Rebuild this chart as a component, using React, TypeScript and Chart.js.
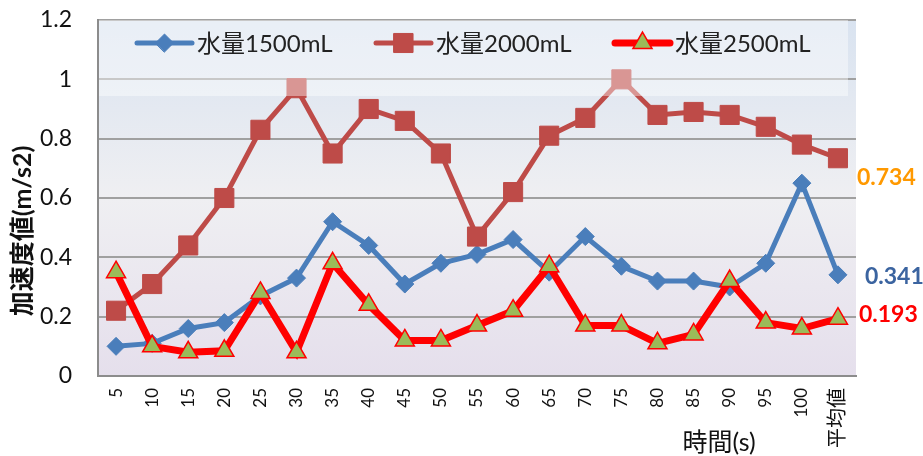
import { useEffect, useRef } from 'react';
import { Chart, registerables } from 'chart.js';
import { drawPoint } from 'chart.js/helpers';

Chart.register(...registerables);

const categories = ['5', '10', '15', '20', '25', '30', '35', '40', '45', '50', '55', '60', '65', '70', '75', '80', '85', '90', '95', '100', '平均値'];
const water1500 = [0.10, 0.11, 0.16, 0.18, 0.27, 0.33, 0.52, 0.44, 0.31, 0.38, 0.41, 0.46, 0.35, 0.47, 0.37, 0.32, 0.32, 0.30, 0.38, 0.65, 0.341];
const water2000 = [0.22, 0.31, 0.44, 0.60, 0.83, 0.97, 0.75, 0.90, 0.86, 0.75, 0.47, 0.62, 0.81, 0.87, 1.00, 0.88, 0.89, 0.88, 0.84, 0.78, 0.734];
const water2500 = [0.35, 0.10, 0.08, 0.085, 0.28, 0.08, 0.38, 0.24, 0.12, 0.12, 0.17, 0.22, 0.37, 0.17, 0.17, 0.11, 0.14, 0.32, 0.18, 0.16, 0.193];
const seriesNames = ['水量1500mL', '水量2000mL', '水量2500mL'];
const yTickLabels = ['0', '0.2', '0.4', '0.6', '0.8', '1', '1.2'];
const avgLabels = ['0.341', '0.734', '0.193'];
const yTitle = '加速度値(m/s2)';
const xTitle = '時間(s)';

const FONT = "Lato, 'Noto Sans CJK JP', sans-serif";

export default function App() {
  const ref = useRef<HTMLCanvasElement | null>(null);

  useEffect(() => {
    if (!ref.current) return;
    document.body.style.margin = '0';

    const styles = [
      { color: '#4A7EBB', width: 5, pointStyle: 'rectRot', radius: 9, fill: '#4A7EBB', border: '#4A7EBB', bw: 1 },
      { color: '#BE4B48', width: 5, pointStyle: 'rect', radius: 13.5, fill: '#BE4B48', border: '#BE4B48', bw: 1 },
      { color: '#FF0000', width: 7, pointStyle: 'triangle', radius: 11, fill: '#9BBB59', border: '#FF0000', bw: 1.5 },
    ];
    const labelStyles = [
      { color: '#3B64A0', dx: 27, dy: 2 },
      { color: '#FF9900', dx: 19, dy: 19 },
      { color: '#FF0000', dx: 21, dy: -4 },
    ];

    const bgPlugin = {
      id: 'bg',
      beforeDraw(chart: any) {
        const { ctx, chartArea: a } = chart;
        const g = ctx.createLinearGradient(0, a.top, 0, a.bottom);
        g.addColorStop(0, '#D9E3F0');
        g.addColorStop(0.5, '#EFEFF2');
        g.addColorStop(1, '#E5DFEC');
        ctx.save();
        ctx.fillStyle = g;
        ctx.fillRect(a.left, a.top, a.right - a.left, a.bottom - a.top);
        ctx.restore();
      },
    };

    const overlayPlugin = {
      id: 'overlay',
      afterDatasetsDraw(chart: any) {
        const { ctx, chartArea: a } = chart;
        ctx.save();
        ctx.fillStyle = 'rgba(255,255,255,0.42)';
        ctx.fillRect(a.left + 1, a.top, a.right - a.left - 9, 76);
        const ly = a.top + 23;
        ctx.font = `24px ${FONT}`;
        ctx.textBaseline = 'middle';
        ctx.textAlign = 'left';
        seriesNames.forEach((name, i) => {
          const s = styles[i];
          const x0 = a.left + 39 + i * 239;
          ctx.strokeStyle = s.color;
          ctx.lineWidth = s.width;
          ctx.lineCap = 'round';
          ctx.beginPath();
          ctx.moveTo(x0, ly);
          ctx.lineTo(x0 + 55, ly);
          ctx.stroke();
          ctx.fillStyle = s.fill;
          ctx.strokeStyle = s.border;
          ctx.lineWidth = s.bw;
          drawPoint(ctx, { pointStyle: s.pointStyle as any, radius: s.radius, rotation: 0, borderWidth: s.bw }, x0 + 27.5, ly);
          ctx.fillStyle = '#222';
          ctx.fillText(name, x0 + 60, ly + 1);
        });
        ctx.font = `bold 23px ${FONT}`;
        chart.data.datasets.forEach((_ds: any, i: number) => {
          const meta = chart.getDatasetMeta(i);
          const pt = meta.data[meta.data.length - 1];
          const ls = labelStyles[i];
          ctx.fillStyle = ls.color;
          ctx.fillText(avgLabels[i], pt.x + ls.dx, pt.y + ls.dy);
        });
        ctx.restore();
      },
      afterDraw(chart: any) {
        const { ctx, chartArea: a } = chart;
        ctx.save();
        ctx.fillStyle = '#111';
        ctx.textAlign = 'center';
        ctx.textBaseline = 'middle';
        ctx.font = `25px ${FONT}`;
        ctx.fillText(xTitle, a.left + 621, a.bottom + 67);
        ctx.translate(a.left - 75, a.top + 211);
        ctx.rotate(-Math.PI / 2);
        ctx.font = `bold 25px ${FONT}`;
        ctx.fillText(yTitle, 0, 0);
        ctx.restore();
      },
    };

    const series = [water1500, water2000, water2500];
    const chart = new Chart(ref.current, {
      type: 'line',
      data: {
        labels: categories,
        datasets: series.map((d, i) => ({
          label: seriesNames[i],
          data: d,
          borderColor: styles[i].color,
          borderWidth: styles[i].width,
          backgroundColor: styles[i].fill,
          pointStyle: styles[i].pointStyle as any,
          pointRadius: styles[i].radius,
          pointHoverRadius: styles[i].radius,
          pointBackgroundColor: styles[i].fill,
          pointBorderColor: styles[i].border,
          pointBorderWidth: styles[i].bw,
          tension: 0,
          fill: false,
          order: 3 - i,
          clip: false as any,
        })),
      },
      options: {
        animation: false,
        responsive: true,
        maintainAspectRatio: false,
        layout: { autoPadding: false, padding: { left: 8, top: 20, right: 67, bottom: 0 } },
        plugins: {
          legend: { display: false },
          tooltip: { enabled: false },
        },
        scales: {
          x: {
            type: 'category',
            offset: true,
            grid: { display: false, drawTicks: false },
            border: { display: true, color: '#8C8C8C', width: 2 },
            ticks: {
              autoSkip: false,
              minRotation: 90,
              maxRotation: 90,
              padding: 12,
              color: '#111',
              font: (c: any) => ({ family: FONT, size: c.index === categories.length - 1 ? 20 : 17 }),
            },
            afterFit(scale: any) { scale.height = 80; scale.paddingLeft = 0; scale.paddingRight = 0; },
          },
          y: {
            min: 0,
            max: 1.2,
            ticks: {
              stepSize: 0.2,
              padding: 26,
              color: '#111',
              font: { family: FONT, size: 23 },
              callback: (_v: any, idx: number) => yTickLabels[idx],
            },
            grid: { color: '#A0A0A0', lineWidth: 2, drawTicks: false },
            border: { display: true, color: '#8C8C8C', width: 2 },
            afterFit(scale: any) { scale.width = 90; scale.paddingTop = 0; scale.paddingBottom = 0; },
          },
        },
      },
      plugins: [bgPlugin, overlayPlugin],
    });
    return () => chart.destroy();
  }, []);

  return (
    <div style={{ width: 923, height: 456 }}>
      <canvas ref={ref} />
    </div>
  );
}
